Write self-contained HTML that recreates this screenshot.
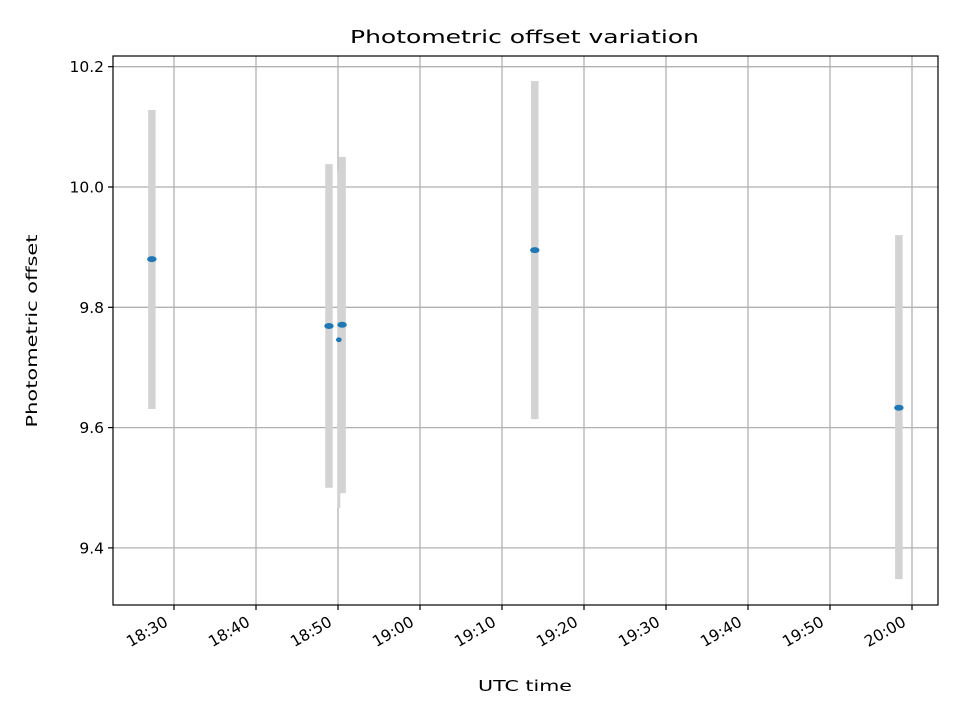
<!DOCTYPE html>
<html><head><meta charset="utf-8"><style>
body{margin:0;background:#fff}
svg{display:block;font-family:"DejaVu Sans","Liberation Sans",sans-serif}
</style></head><body>
<svg id="chart" width="960" height="720" viewBox="0 0 960 720">
<rect width="960" height="720" fill="#fff"/>
<g id="grid"></g>
<g id="bars"></g>
<g id="pts"></g>
<rect x="113" y="56" width="825" height="549" fill="none" stroke="#000" stroke-width="1.2"/>
<g id="ticks"></g>
<text x="524.5" y="43" text-anchor="middle" font-size="18" textLength="349" lengthAdjust="spacingAndGlyphs">Photometric offset variation</text>
<text x="525" y="691" text-anchor="middle" font-size="15.5" textLength="94" lengthAdjust="spacingAndGlyphs">UTC time</text>
<text transform="translate(37,331) rotate(-90)" text-anchor="middle" font-size="15.5" textLength="193" lengthAdjust="spacingAndGlyphs">Photometric offset</text>
</svg>
<script>
const times=[18*60+27.3,18*60+48.9,18*60+50.1,18*60+50.5,19*60+14.0,19*60+58.4];
const values=[9.880,9.769,9.746,9.771,9.895,9.633];
const lows=[9.631,9.500,9.466,9.491,9.614,9.348];
const highs=[10.128,10.038,10.026,10.050,10.176,9.920];
const sizes=[1,1,0.6,1,1,1];
const yTicks=[9.4,9.6,9.8,10.0,10.2];
const yTickLabels=["9.4","9.6","9.8","10.0","10.2"];
const xTicks=[1110,1120,1130,1140,1150,1160,1170,1180,1190,1200];
const xTickLabels=["18:30","18:40","18:50","19:00","19:10","19:20","19:30","19:40","19:50","20:00"];
const NS="http://www.w3.org/2000/svg";
const x=m=>174+(m-1110)*8.2;
const y=v=>187-(v-10)*601.5;
function mk(tag,attrs,parent,text){const e=document.createElementNS(NS,tag);for(const k in attrs)e.setAttribute(k,attrs[k]);if(text!==undefined)e.textContent=text;document.getElementById(parent).appendChild(e);return e;}
xTicks.forEach((t,i)=>{
 const g=mk('line',{x1:x(t),x2:x(t),y1:56,y2:605,stroke:'#b0b0b0','stroke-width':1.3},'grid');
 
 
 const tk=mk('line',{x1:x(t),x2:x(t),y1:605,y2:610,stroke:'#000','stroke-width':1.2},'ticks');
 
 
 const ax=x(t)-5, ay=625;
 const lb=mk('text',{x:ax,y:ay,'font-size':15.5,'text-anchor':'end',transform:`rotate(-30 ${ax} ${ay})`},'ticks',xTickLabels[i]);
 
 
});
yTicks.forEach((t,i)=>{
 const g=mk('line',{x1:113,x2:938,y1:y(t),y2:y(t),stroke:'#b0b0b0','stroke-width':1.3},'grid');
 
 
 const tk=mk('line',{x1:108,x2:113,y1:y(t),y2:y(t),stroke:'#000','stroke-width':1.2},'ticks');
 
 
 const lb=mk('text',{x:104,y:y(t)+5.5,'font-size':15.5,'text-anchor':'end'},'ticks',yTickLabels[i]);
 
 
});
times.forEach((t,i)=>{
 const b=mk('line',{x1:x(t),x2:x(t),y1:y(highs[i]),y2:y(lows[i]),stroke:'#d3d3d3','stroke-width':sizes[i]<1?3:7.5},'bars');
 
 
});
times.forEach((t,i)=>{
 const p=mk('ellipse',{cx:x(t),cy:y(values[i]),rx:4.7*sizes[i],ry:3*sizes[i]+(sizes[i]<1?0.6:0),fill:'#1f77b4'},'pts');
 
 
});
</script>
</body></html>
